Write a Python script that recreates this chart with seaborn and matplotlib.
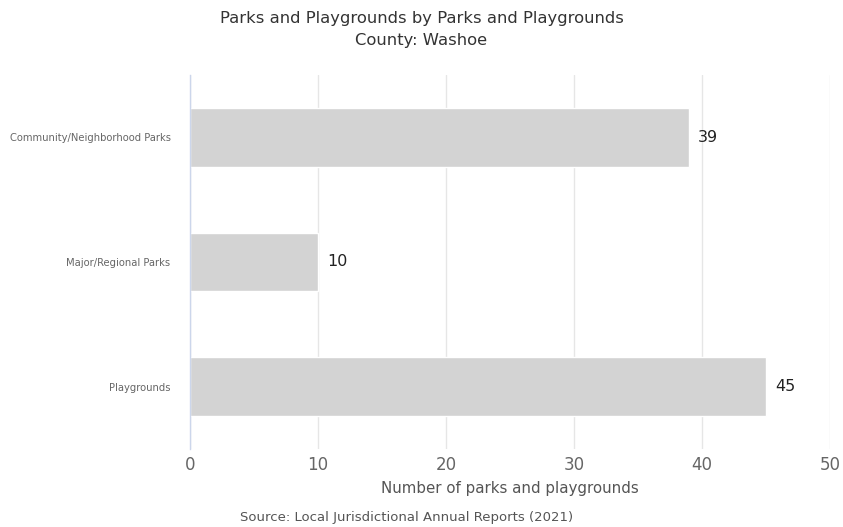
import matplotlib
matplotlib.use("Agg")
import matplotlib.pyplot as plt
import seaborn as sns
import pandas as pd

categories = ["Community/Neighborhood Parks", "Major/Regional Parks", "Playgrounds"]
values = [39, 10, 45]
xticks = [0, 10, 20, 30, 40, 50]

sns.set_theme(style="white")
plt.rcParams['font.family'] = ['DejaVu Sans']

df = pd.DataFrame({"cat": categories, "val": values})
fig = plt.figure(figsize=(8.43, 5.27), dpi=100)
ax = fig.add_axes([190/843, 1-449/527, 640/843, 374/527])

sns.barplot(data=df, x="val", y="cat", orient="h", color="#d3d3d3",
            saturation=1, width=0.47, ax=ax, zorder=2)
ax.set_xlim(0, 50)
ax.set_xticks(xticks)
ax.set_xticklabels([str(t) for t in xticks], fontsize=12, color="#666666")
ax.tick_params(axis="x", length=0, pad=5)
ax.tick_params(axis="y", length=0, pad=14, labelsize=7.2, labelcolor="#666666")
ax.grid(axis="x", color="#e6e6e6", linewidth=1, zorder=0)
ax.set_axisbelow(True)
for s in ["top", "right", "bottom"]:
    ax.spines[s].set_visible(False)
ax.spines["left"].set_color("#ccd6eb")
ax.spines["left"].set_linewidth(1)
ax.set_ylabel("")
ax.set_xlabel("Number of parks and playgrounds", fontsize=10.8, color="#555555", labelpad=5)

for p, v in zip(ax.patches, values):
    y = p.get_y() + p.get_height() / 2
    ax.text(p.get_width() + 0.7, y, str(v), va="center", ha="left", fontsize=11.5, color="#222222")

fig.text(0.5, 1-18/527, "Parks and Playgrounds by Parks and Playgrounds", ha="center", va="center",
         fontsize=11.8, color="#333333")
fig.text(0.5, 1-40/527, "County: Washoe", ha="center", va="center", fontsize=11.8, color="#333333")
fig.text(407/843, 1-518/527, "Source: Local Jurisdictional Annual Reports (2021)", ha="center", va="center",
         fontsize=9.5, color="#555555")

fig.savefig("out.png", dpi=100)
